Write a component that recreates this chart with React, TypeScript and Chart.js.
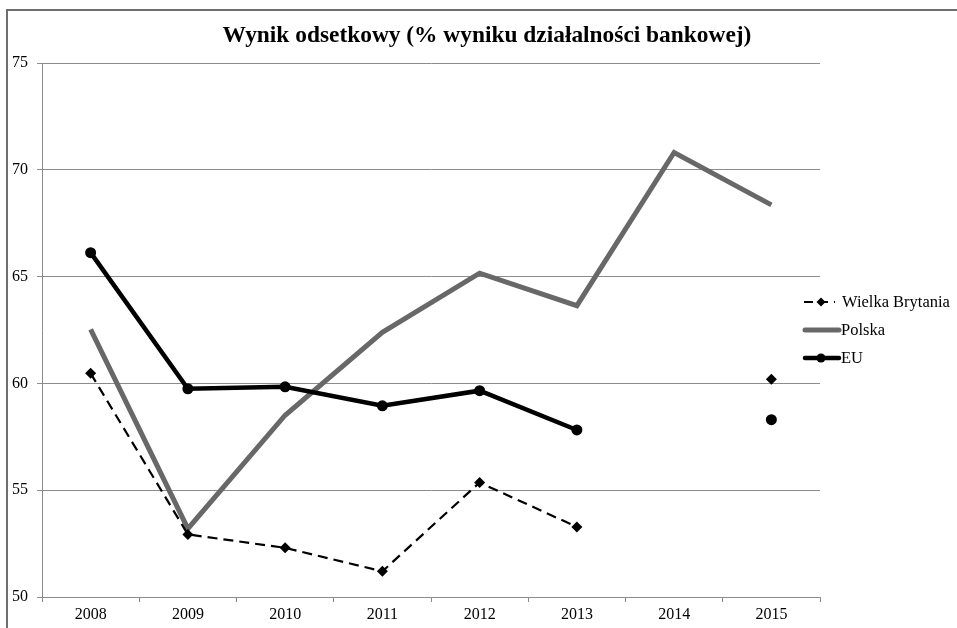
import React, { useEffect, useRef } from "react";
import { Chart, registerables } from "chart.js";

Chart.register(...registerables);

const categories = ["2008", "2009", "2010", "2011", "2012", "2013", "2014", "2015"];
const ukValues: (number | null)[] = [60.47, 52.93, 52.3, 51.2, 55.36, 53.28, null, 60.2];
const plValues: (number | null)[] = [62.53, 53.2, 58.51, 62.39, 65.16, 63.64, 70.81, 68.36];
const euValues: (number | null)[] = [66.12, 59.75, 59.84, 58.95, 59.66, 57.82, null, 58.3];
const seriesNames = ["Wielka Brytania", "Polska", "EU"];
const titleText = "Wynik odsetkowy (% wyniku działalności bankowej)";

const SERIF = "'Liberation Serif', 'Times New Roman', serif";
const GRID = "#8c8c8c";
const PL_COLOR = "#686868";

const decorPlugin = {
  id: "decor",
  beforeDraw(chart: any) {
    const ctx = chart.ctx;
    ctx.save();
    ctx.fillStyle = "#ffffff";
    ctx.fillRect(0, 0, chart.width, chart.height);
    ctx.strokeStyle = "#6e6e6e";
    ctx.lineWidth = 2;
    ctx.beginPath();
    ctx.moveTo(7, chart.height);
    ctx.lineTo(7, 10);
    ctx.lineTo(chart.width, 10);
    ctx.stroke();
    ctx.restore();
  },
  afterDraw(chart: any) {
    const ctx = chart.ctx;
    ctx.save();
    // title
    ctx.fillStyle = "#000";
    ctx.font = `bold 23.4px ${SERIF}`;
    ctx.textAlign = "center";
    ctx.textBaseline = "middle";
    ctx.fillText(titleText, 487, 36);

    // legend
    const x0 = 804;
    const x1 = 839;
    const xm = 821;
    const ys = [302, 330, 358];
    ctx.font = `16.5px ${SERIF}`;
    ctx.textAlign = "left";
    ctx.textBaseline = "middle";
    // UK
    ctx.strokeStyle = "#000";
    ctx.lineWidth = 2.2;
    ctx.setLineDash([9, 6]);
    ctx.beginPath();
    ctx.moveTo(x0, ys[0]);
    ctx.lineTo(x1 - 4, ys[0]);
    ctx.stroke();
    ctx.setLineDash([]);
    ctx.fillStyle = "#000";
    ctx.beginPath();
    ctx.moveTo(xm, ys[0] - 4.5);
    ctx.lineTo(xm + 4.5, ys[0]);
    ctx.lineTo(xm, ys[0] + 4.5);
    ctx.lineTo(xm - 4.5, ys[0]);
    ctx.closePath();
    ctx.fill();
    ctx.fillText(seriesNames[0], 842, ys[0] + 1);
    // Polska
    ctx.strokeStyle = PL_COLOR;
    ctx.lineWidth = 5;
    ctx.lineCap = "round";
    ctx.beginPath();
    ctx.moveTo(x0 + 1, ys[1]);
    ctx.lineTo(x1, ys[1]);
    ctx.stroke();
    ctx.fillStyle = "#000";
    ctx.fillText(seriesNames[1], 841, ys[1] + 1);
    // EU
    ctx.strokeStyle = "#000";
    ctx.lineWidth = 4.5;
    ctx.beginPath();
    ctx.moveTo(x0 + 1, ys[2]);
    ctx.lineTo(x1, ys[2]);
    ctx.stroke();
    ctx.beginPath();
    ctx.arc(xm, ys[2], 4.5, 0, Math.PI * 2);
    ctx.fill();
    ctx.fillText(seriesNames[2], 841, ys[2] + 1);
    ctx.restore();
  },
};

export default function App() {
  const ref = useRef<HTMLCanvasElement | null>(null);
  useEffect(() => {
    document.body.style.margin = "0";
    if (!ref.current) return;
    const chart = new Chart(ref.current, {
      type: "line",
      data: {
        labels: categories,
        datasets: [
          {
            label: seriesNames[2],
            data: euValues,
            borderColor: "#000",
            backgroundColor: "#000",
            borderWidth: 4.5,
            pointRadius: 5.5,
            pointStyle: "circle",
            pointBorderWidth: 0,
            spanGaps: false,
            tension: 0,
          },
          {
            label: seriesNames[0],
            data: ukValues,
            borderColor: "#000",
            backgroundColor: "#000",
            borderWidth: 2.2,
            borderDash: [10, 6],
            pointRadius: 5.5,
            pointStyle: "rectRot",
            pointBorderWidth: 0,
            spanGaps: false,
            tension: 0,
          },
          {
            label: seriesNames[1],
            data: plValues,
            borderColor: PL_COLOR,
            backgroundColor: PL_COLOR,
            borderWidth: 5,
            pointRadius: 0,
            tension: 0,
          },
        ],
      },
      options: {
        responsive: false,
        animation: false,
        devicePixelRatio: 1,
        layout: { padding: { top: 63, right: 137, left: 0, bottom: 0 } },
        plugins: {
          legend: { display: false },
          title: { display: false },
          tooltip: { enabled: false },
        },
        scales: {
          x: {
            type: "category",
            offset: true,
            afterFit: (s: any) => {
              s.height = 31;
            },
            grid: {
              offset: true,
              drawOnChartArea: false,
              drawTicks: true,
              tickLength: 5,
              color: GRID,
            },
            border: { display: true, color: GRID, width: 1 },
            ticks: {
              color: "#000",
              font: { family: SERIF, size: 16 },
              padding: 3,
              maxRotation: 0,
            },
          },
          y: {
            min: 50,
            max: 75,
            afterFit: (s: any) => {
              s.width = 42;
            },
            grid: {
              color: GRID,
              drawTicks: true,
              tickLength: 5,
            },
            border: { display: true, color: GRID, width: 1 },
            ticks: {
              stepSize: 5,
              color: "#000",
              font: { family: SERIF, size: 16 },
              padding: 9,
            },
          },
        },
      },
      plugins: [decorPlugin],
    });
    return () => chart.destroy();
  }, []);
  return (
    <div style={{ width: 957, height: 628 }}>
      <canvas ref={ref} width={957} height={628} style={{ display: "block" }} />
    </div>
  );
}
